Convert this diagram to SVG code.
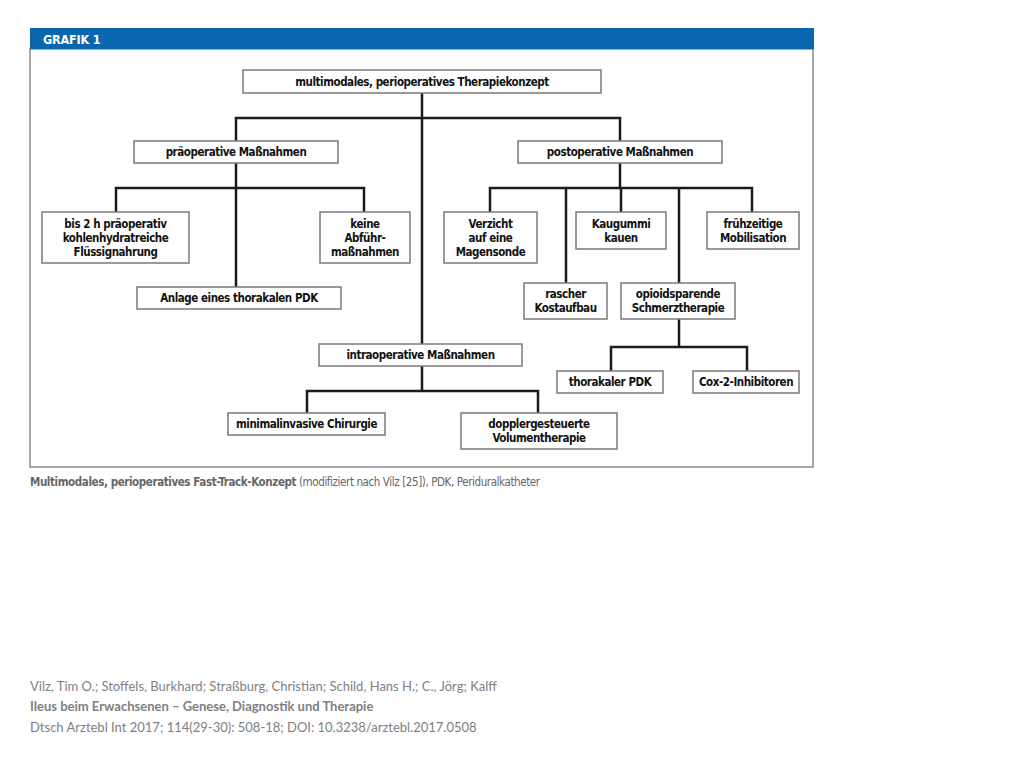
<svg xmlns="http://www.w3.org/2000/svg" width="1024" height="768" viewBox="0 0 1024 768">
<style>
.box{fill:#fff;stroke:#7a7a7a;stroke-width:1.5}
.t{font-family:"DejaVu Sans Condensed","Liberation Sans",sans-serif;font-weight:bold;font-size:11.5px;letter-spacing:-0.45px;fill:#111;text-anchor:middle}
.c{fill:none;stroke:#1a1a1a;stroke-width:2.5}
.ft{font-family:Lato,"Liberation Sans",sans-serif;font-size:13px;fill:#7f7f7f}
</style>
<rect x="0" y="0" width="1024" height="768" fill="#fff"/>
<rect x="30" y="49" width="783" height="418" fill="#fff" stroke="#8a8a8a" stroke-width="1.5"/>
<rect x="30" y="28" width="784" height="21" fill="#0a66ad"/>
<text x="43" y="44" font-family="DejaVu Sans Condensed,Liberation Sans,sans-serif" font-weight="bold" font-size="12.5" letter-spacing="-0.2" fill="#fff">GRAFIK 1</text>
<g id="connectors">
<path class="c" d="M422 93V344M236 163V118H620V141M236 163V287M116 212V188H364V212M620 163V188M490 212V188H752V212M566 188V283M621 188V212M679 188V283M679 319V347M611 371V347H747V371M422 366V391M307 413V391H538V413"/>
</g>
<g id="n-top"><rect class="box" x="243" y="70" width="358" height="23"/><text class="t" x="422" y="85.5">multimodales, perioperatives Therapiekonzept</text></g>
<g id="n-pre"><rect class="box" x="134" y="141" width="204" height="22"/><text class="t" x="236" y="156">präoperative Maßnahmen</text></g>
<g id="n-post"><rect class="box" x="518" y="141" width="204" height="22"/><text class="t" x="620" y="156">postoperative Maßnahmen</text></g>
<g id="n-bis"><rect class="box" x="42" y="212" width="147" height="51"/><text class="t" x="115.5" y="228">bis 2 h präoperativ<tspan x="115.5" dy="14">kohlenhydratreiche</tspan><tspan x="115.5" dy="14">Flüssignahrung</tspan></text></g>
<g id="n-keine"><rect class="box" x="320" y="212" width="90" height="51"/><text class="t" x="365" y="228">keine<tspan x="365" dy="14">Abführ-</tspan><tspan x="365" dy="14">maßnahmen</tspan></text></g>
<g id="n-anlage"><rect class="box" x="137" y="287" width="204" height="22"/><text class="t" x="239" y="302">Anlage eines thorakalen PDK</text></g>
<g id="n-verzicht"><rect class="box" x="444" y="212" width="93" height="51"/><text class="t" x="490.5" y="228">Verzicht<tspan x="490.5" dy="14">auf eine</tspan><tspan x="490.5" dy="14">Magensonde</tspan></text></g>
<g id="n-kaugummi"><rect class="box" x="576" y="212" width="90" height="37"/><text class="t" x="621" y="228">Kaugummi<tspan x="621" dy="14">kauen</tspan></text></g>
<g id="n-fruh"><rect class="box" x="707" y="212" width="92" height="37"/><text class="t" x="753" y="228">frühzeitige<tspan x="753" dy="14">Mobilisation</tspan></text></g>
<g id="n-rascher"><rect class="box" x="524" y="283" width="83" height="36"/><text class="t" x="565.5" y="298">rascher<tspan x="565.5" dy="14">Kostaufbau</tspan></text></g>
<g id="n-opioid"><rect class="box" x="621" y="283" width="114" height="36"/><text class="t" x="678" y="298">opioidsparende<tspan x="678" dy="14">Schmerztherapie</tspan></text></g>
<g id="n-thor"><rect class="box" x="557" y="371" width="106" height="22"/><text class="t" x="610" y="386">thorakaler PDK</text></g>
<g id="n-cox"><rect class="box" x="693" y="371" width="106" height="22"/><text class="t" x="746" y="386">Cox-2-Inhibitoren</text></g>
<g id="n-intra"><rect class="box" x="319" y="344" width="203" height="22"/><text class="t" x="420.5" y="359">intraoperative Maßnahmen</text></g>
<g id="n-mini"><rect class="box" x="228" y="413" width="157" height="22"/><text class="t" x="306.5" y="428">minimalinvasive Chirurgie</text></g>
<g id="n-doppler"><rect class="box" x="461" y="413" width="156" height="36"/><text class="t" x="539" y="428">dopplergesteuerte<tspan x="539" dy="14">Volumentherapie</tspan></text></g>
<text x="30" y="486" font-family="DejaVu Sans Condensed,Liberation Sans,sans-serif" font-size="11.5" letter-spacing="-0.4" fill="#666"><tspan font-weight="bold">Multimodales, perioperatives Fast-Track-Konzept</tspan> (modifiziert nach Vilz [25]), PDK, Periduralkatheter</text>
<text class="ft" x="30" y="691">Vilz, Tim O.; Stoffels, Burkhard; Straßburg, Christian; Schild, Hans H.; C., Jörg; Kalff</text>
<text class="ft" x="30" y="711" font-weight="bold">Ileus beim Erwachsenen – Genese, Diagnostik und Therapie</text>
<text class="ft" x="30" y="732">Dtsch Arztebl Int 2017; 114(29-30): 508-18; DOI: 10.3238/arztebl.2017.0508</text>
</svg>
